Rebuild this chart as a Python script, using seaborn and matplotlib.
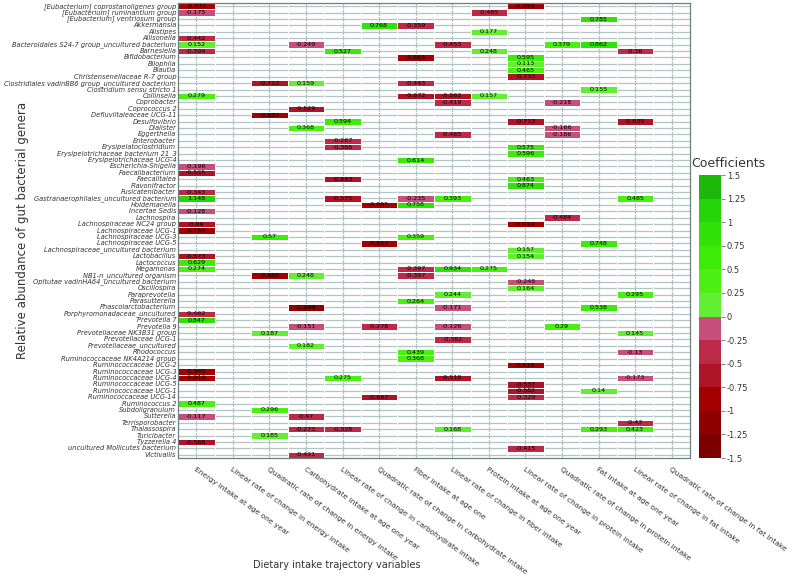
import numpy as np
import pandas as pd
import matplotlib
matplotlib.use('Agg')
import matplotlib.pyplot as plt
import matplotlib.colors as mcolors
import seaborn as sns

sns.set_style("white")

# Genera (rows) and dietary trajectory variables (columns)
genera = [
    '[Eubacterium] coprostanoligenes group', '[Eubacterium] ruminantium group',
    '[Eubacterium] ventriosum group', 'Akkermansia', 'Alistipes', 'Allisonella',
    'Bacteroidales S24-7 group_uncultured bacterium', 'Barnesiella', 'Bifidobacterium',
    'Bilophila', 'Blautia', 'Christensenellaceae R-7 group',
    'Clostridiales vadinBB6 group_uncultured bacterium', 'Clostridium sensu stricto 1',
    'Collinsella', 'Coprobacter', 'Coprococcus 2', 'Defluviitaleaceae UCG-11',
    'Desulfovibrio', 'Dialister', 'Eggerthella', 'Enterobacter', 'Erysipelatoclostridium',
    'Erysipelotrichaceae bacterium 21_3', 'Erysipelotrichaceae UCG-4',
    'Escherichia-Shigella', 'Faecalibacterium', 'Faecalitalea', 'Flavonifractor',
    'Fusicatenibacter', 'Gastranaerophilales_uncultured bacterium', 'Holdemanella',
    'Incertae Sedis', 'Lachnospira', 'Lachnospiraceae NC24 group', 'Lachnospiraceae UCG-1',
    'Lachnospiraceae UCG-3', 'Lachnospiraceae UCG-5', 'Lachnospiraceae_uncultured bacterium',
    'Lactobacillus', 'Lactococcus', 'Megamonas', 'NB1-n_uncultured organism',
    'Opitutae vadinHA64_uncultured bacterium', 'Oscillospira', 'Paraprevotella',
    'Parasutterella', 'Phascolarctobacterium', 'Porphyromonadaceae_uncultured',
    'Prevotella 7', 'Prevotella 9', 'Prevotellaceae NK3B31 group', 'Prevotellaceae UCG-1',
    'Prevotellaceae_uncultured', 'Rhodococcus', 'Ruminococcaceae NK4A214 group',
    'Ruminococcaceae UCG-2', 'Ruminococcaceae UCG-3', 'Ruminococcaceae UCG-4',
    'Ruminococcaceae UCG-5', 'Ruminococcaceae UCG-1', 'Ruminococcaceae UCG-14',
    'Ruminococcus 2', 'Subdoligranulum', 'Sutterella', 'Terrisporobacter', 'Thalassospira',
    'Turicibacter', 'Tyzzerella 4', 'uncultured Mollicutes bacterium', 'Victivallis',
]

variables = [
    'Energy intake at age one year',
    'Linear rate of change in energy intake',
    'Quadratic rate of change in energy intake',
    'Carbohydrate intake at age one year',
    'Linear rate of change in carbohydrate intake',
    'Quadratic rate of change in carbohydrate intake',
    'Fiber intake at age one',
    'Linear rate of change in fiber intake',
    'Protein intake at age one year',
    'Linear rate of change in protein intake',
    'Quadratic rate of change in protein intake',
    'Fat intake at age one year',
    'Linear rate of change in fat intake',
    'Quadratic rate of change in fat intake',
]

# Significant coefficients: genus index, variable index, value
coef_genus = [0, 0, 1, 1, 2, 3, 3, 4, 5,
              6, 6, 6, 6, 6, 7, 7, 7, 7, 8, 8, 9, 10, 11,
              12, 12, 12, 13, 14, 14, 14, 14, 15, 15, 16, 17,
              18, 18, 18, 19, 19, 20, 20, 21, 22, 22, 23, 24,
              25, 26, 27, 27, 28, 29,
              30, 30, 30, 30, 30, 31, 31, 32, 33, 34, 34, 35,
              36, 36, 37, 37, 38, 39, 39, 40,
              41, 41, 41, 41, 42, 42, 42, 43, 44, 45, 45, 46,
              47, 47, 47, 48, 49, 50, 50, 50, 50, 51, 51, 52, 53,
              54, 54, 55, 56, 57, 58, 58, 58, 58, 59, 60, 60, 61, 61,
              62, 63, 64, 64, 65, 66, 66, 66, 66, 66, 67, 68, 69, 70]
coef_var = [0, 9, 0, 8, 11, 5, 6, 8, 0,
            0, 3, 7, 10, 11, 0, 4, 8, 12, 6, 9, 9, 9, 9,
            2, 3, 6, 11, 0, 6, 7, 8, 7, 10, 3, 2,
            4, 9, 12, 3, 10, 7, 10, 4, 4, 9, 9, 6,
            0, 0, 4, 9, 9, 0,
            0, 4, 6, 7, 12, 5, 6, 0, 10, 0, 9, 0,
            2, 6, 5, 11, 9, 0, 9, 0,
            0, 6, 7, 8, 2, 3, 6, 9, 9, 7, 12, 6,
            3, 7, 11, 0, 0, 3, 5, 7, 10, 2, 12, 7, 3,
            6, 12, 6, 9, 0, 0, 4, 7, 12, 9, 9, 11, 5, 9,
            0, 2, 0, 3, 12, 3, 4, 7, 11, 12, 2, 0, 9, 3]
coef_value = [-0.873, -0.994, -0.175, -0.485, 0.785, 0.768, -0.359, 0.177, -0.442,
              0.152, -0.249, -0.453, 0.379, 0.862, -0.394, 0.527, 0.248, -0.36, -0.863, 0.595, 0.113, 0.465, -0.733,
              -0.712, 0.159, -0.443, 0.155, 0.279, -0.672, -0.562, 0.157, -0.419, -0.218, -0.529, -0.837,
              0.594, -0.713, -0.639, 0.368, -0.166, -0.465, -0.186, -0.267, -0.386, 0.575, 0.596, 0.614,
              -0.196, -0.525, -0.663, 0.463, 0.874, -0.343,
              1.148, -0.575, -0.235, 0.393, 0.485, -0.895, 0.758, -0.128, -0.484, -0.69, -0.914, -0.754,
              0.57, 0.359, -0.837, 0.748, 0.157, -0.573, 0.154, 0.629,
              0.274, -0.397, 0.934, 0.275, -0.888, 0.248, -0.397, -0.248, 0.164, 0.244, 0.295, 0.264,
              -1.249, -0.171, 0.538, -0.462, 0.847, -0.151, -0.278, -0.126, 0.29, 0.187, 0.145, -0.382, 0.182,
              0.439, -0.13, 0.368, -0.916, -0.945, -0.916, 0.275, -0.518, -0.173, -0.537, -0.582, 0.14, -0.667, -0.329,
              0.487, 0.296, -0.117, -0.47, -0.43, -0.273, -0.328, 0.168, 0.293, 0.423, 0.185, -0.568, -0.415, -0.421]

# Build the genus x variable table (empty cells stay NaN)
long_df = pd.DataFrame({
    'genus': [genera[i] for i in coef_genus],
    'variable': [variables[j] for j in coef_var],
    'coef': coef_value,
})
table = long_df.pivot(index='genus', columns='variable', values='coef')
table = table.reindex(index=genera, columns=variables)

# Discrete red/green scale in 0.25 steps
bounds = np.arange(-1.5, 1.51, 0.25)
colours = ['#7d0000', '#8f0000', '#a30000', '#ae1428', '#bc2a48', '#c6507a',
           '#62ef33', '#4bf012', '#3deb08', '#30e208', '#25d508', '#1db80a']
cmap = mcolors.ListedColormap(colours)
norm = mcolors.BoundaryNorm(bounds, cmap.N)

fig = plt.figure(figsize=(7.97, 5.77), dpi=100)
ax = fig.add_axes([0.2233, 0.2062, 0.6424, 0.7886])
cax = fig.add_axes([0.877, 0.2062, 0.028, 0.4905])

sns.heatmap(table, ax=ax, cbar_ax=cax, cmap=cmap, norm=norm,
            annot=True, fmt='g', annot_kws={'color': 'black', 'fontsize': 4.6},
            linewidths=0.4, linecolor='white',
            cbar_kws={'ticks': bounds})

# Grid behind the cells, like the original
ax.set_axisbelow(True)
ax.grid(True, color='#b3c4c4', linewidth=0.9)
ax.set_xticks(np.arange(len(variables)) + 0.5, minor=False)
ax.set_yticks(np.arange(len(genera)) + 0.5, minor=False)
ax.set_yticks(np.arange(len(genera) + 1), minor=True)
ax.grid(True, which='minor', axis='y', color='#cdd8d8', linewidth=0.6)
for sp in ax.spines.values():
    sp.set_visible(True)
    sp.set_color('#6d8080')
    sp.set_linewidth(0.9)

ax.set_yticklabels(genera, fontsize=4.8, style='italic', color='#333333')
ax.set_xticklabels(variables, fontsize=5.4, rotation=-35, ha='left', va='top',
                   rotation_mode='anchor', color='#333333')
ax.tick_params(axis='x', which='major', length=4, color='#888888', pad=2)
ax.tick_params(axis='y', which='both', length=0, pad=1.2)

ax.set_xlabel('Dietary intake trajectory variables', fontsize=7, color='#333333')
ax.xaxis.set_label_coords(0.31, -0.224)
ax.set_ylabel('Relative abundance of gut bacterial genera', fontsize=8.5, color='#333333')
ax.yaxis.set_label_coords(-0.29, 0.5)

# Colour bar
cax.set_yticklabels(['{:g}'.format(b) for b in bounds], fontsize=6, color='#333333')
cax.tick_params(length=3, color='#888888', pad=1)
fig.text(0.867, 1 - 163 / 577, 'Coefficients', fontsize=9, color='#333333', va='center')

fig.savefig('out.png', dpi=100)
